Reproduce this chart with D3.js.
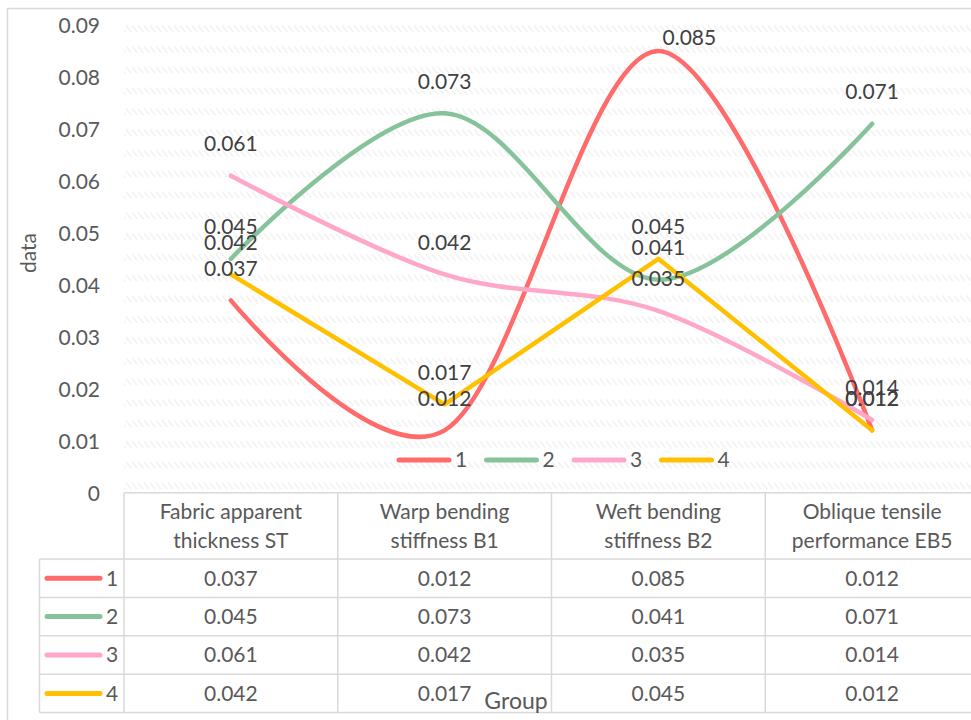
<!DOCTYPE html>
<html>
<head>
<meta charset="utf-8">
<script src="https://cdn.jsdelivr.net/npm/d3@7/dist/d3.min.js"></script>
<style>
  html, body { margin: 0; padding: 0; background: #ffffff; }
  svg { display: block; font-family: Lato, "Open Sans", sans-serif; }
</style>
</head>
<body>
<svg id="chart" width="971" height="720"></svg>
<script>
// ---------- data ----------
const categories = [
  "Fabric apparent thickness ST",
  "Warp bending stiffness B1",
  "Weft bending stiffness B2",
  "Oblique tensile performance EB5"
];
const seriesNames = ["1", "2", "3", "4"];
const series1 = [0.037, 0.012, 0.085, 0.012];
const series2 = [0.045, 0.073, 0.041, 0.071];
const series3 = [0.061, 0.042, 0.035, 0.014];
const series4 = [0.042, 0.017, 0.045, 0.012];
const yTicks = [0, 0.01, 0.02, 0.03, 0.04, 0.05, 0.06, 0.07, 0.08, 0.09];
const yTickLabels = ["0", "0.01", "0.02", "0.03", "0.04", "0.05", "0.06", "0.07", "0.08", "0.09"];
const valueLabels = [
  ["0.037", "0.012", "0.085", "0.012"],
  ["0.045", "0.073", "0.041", "0.071"],
  ["0.061", "0.042", "0.035", "0.014"],
  ["0.042", "0.017", "0.045", "0.012"]
];
const yTitle = "data";
const xTitle = "Group";

// ---------- styles ----------
const colors = ["#FF6B6B", "#86C39A", "#FFA7C8", "#FFC000"];
const smooth = [true, true, true, false];
const allSeries = [series1, series2, series3, series4];

const svg = d3.select("#chart");
const W = 971, H = 720;

const plotLeft = 124, plotRight = 979, plotTop = 25, plotBottom = 492.7;

const x = d3.scaleBand().domain(categories).range([plotLeft, plotRight]).padding(0);
const y = d3.scaleLinear().domain([0, 0.09]).range([plotBottom, plotTop]);
const cx = c => x(c) + x.bandwidth() / 2;

// outer chart border
svg.append("path")
  .attr("d", `M7.5,${H + 5} L7.5,8.5 L${W + 5},8.5`)
  .attr("fill", "none").attr("stroke", "#d9d9d9").attr("stroke-width", 1.5);

// hatched gridline pattern
const defs = svg.append("defs");
const pat = defs.append("pattern")
  .attr("id", "hatch")
  .attr("patternUnits", "userSpaceOnUse")
  .attr("width", 6).attr("height", (plotBottom - plotTop) / 22.5)
  .attr("x", 0).attr("y", plotTop);
pat.append("path").attr("d", "M0,0.5 L5,6.5")
  .attr("stroke", "#f1f1f1").attr("stroke-width", 1.5).attr("stroke-linecap", "round");

svg.append("rect")
  .attr("x", plotLeft).attr("y", plotTop)
  .attr("width", W - plotLeft).attr("height", plotBottom - plotTop - 1)
  .attr("fill", "url(#hatch)");

// y tick labels
const yAxis = d3.axisLeft(y).tickValues(yTicks)
  .tickFormat((d, i) => yTickLabels[i]).tickSize(0).tickPadding(0);
const gy = svg.append("g").attr("transform", "translate(100,0)").call(yAxis);
gy.select(".domain").remove();
gy.selectAll("text")
  .attr("font-size", 21).attr("fill", "#595959")
  .attr("font-family", "Lato, 'Open Sans', sans-serif")
  .attr("dy", "0.35em");

// y title
svg.append("text")
  .attr("transform", "translate(36,253) rotate(-90)")
  .attr("text-anchor", "middle")
  .attr("font-size", 21).attr("fill", "#595959")
  .text(yTitle);

// series lines
allSeries.forEach((vals, si) => {
  const line = d3.line()
    .x((d, i) => cx(categories[i]))
    .y(d => y(d))
    .curve(smooth[si] ? d3.curveCatmullRom.alpha(0) : d3.curveLinear);
  svg.append("path")
    .datum(vals)
    .attr("d", line)
    .attr("fill", "none")
    .attr("stroke", colors[si])
    .attr("stroke-width", 4.5)
    .attr("stroke-linecap", "round")
    .attr("stroke-linejoin", "round");
});

// data labels (kept inside the plot area; nudged right when clamped at the top)
const minLabelY = plotTop + 13;
allSeries.forEach((vals, si) => {
  vals.forEach((v, i) => {
    let ly = y(v) - 32;
    let lx = cx(categories[i]);
    if (ly < minLabelY) { ly = minLabelY; lx += 31; }
    svg.append("text")
      .attr("x", lx).attr("y", ly).attr("dy", "0.35em")
      .attr("text-anchor", "middle")
      .attr("font-size", 21).attr("fill", "#404040")
      .text(valueLabels[si][i]);
  });
});

// in-plot legend
const legY = 460, legX0 = 397, legStep = 87.5;
seriesNames.forEach((name, si) => {
  const lx = legX0 + si * legStep;
  svg.append("line")
    .attr("x1", lx + 2).attr("x2", lx + 52)
    .attr("y1", legY).attr("y2", legY)
    .attr("stroke", colors[si]).attr("stroke-width", 5).attr("stroke-linecap", "round");
  svg.append("text")
    .attr("x", lx + 58).attr("y", legY).attr("dy", "0.35em")
    .attr("font-size", 21).attr("fill", "#595959")
    .text(name);
});

// ---------- data table ----------
const headerTop = plotBottom, headerBottom = 559, rowH = 38.4;
const tableLeft = 39.5;
const grid = "#d9d9d9";
const tg = svg.append("g");

// horizontal lines
tg.append("line").attr("x1", plotLeft).attr("x2", W + 5)
  .attr("y1", headerTop).attr("y2", headerTop).attr("stroke", grid).attr("stroke-width", 1.5);
for (let r = 0; r <= seriesNames.length; r++) {
  const yy = headerBottom + r * rowH;
  tg.append("line").attr("x1", tableLeft).attr("x2", W + 5)
    .attr("y1", yy).attr("y2", yy).attr("stroke", grid).attr("stroke-width", 1.5);
}
// vertical lines
const tableBottom = headerBottom + seriesNames.length * rowH;
tg.append("line").attr("x1", tableLeft).attr("x2", tableLeft)
  .attr("y1", headerBottom).attr("y2", tableBottom).attr("stroke", grid).attr("stroke-width", 1.5);
categories.forEach((c, i) => {
  tg.append("line").attr("x1", x(c)).attr("x2", x(c))
    .attr("y1", headerTop).attr("y2", tableBottom).attr("stroke", grid).attr("stroke-width", 1.5);
});
tg.append("line").attr("x1", plotRight).attr("x2", plotRight)
  .attr("y1", headerTop).attr("y2", tableBottom).attr("stroke", grid).attr("stroke-width", 1.5);

// header text with wrapping
categories.forEach(c => {
  const words = c.split(" ");
  const t = tg.append("text").attr("font-size", 21).attr("fill", "#595959")
    .attr("text-anchor", "middle");
  let lines = [], cur = [];
  const probe = tg.append("text").attr("font-size", 21);
  words.forEach(w => {
    const test = cur.concat([w]).join(" ");
    probe.text(test);
    if (probe.node().getComputedTextLength() > 175 && cur.length) {
      lines.push(cur.join(" "));
      cur = [w];
    } else cur.push(w);
  });
  lines.push(cur.join(" "));
  probe.remove();
  const midY = (headerTop + headerBottom) / 2;
  const lh = 29;
  lines.forEach((ln, k) => {
    t.append("tspan").attr("x", cx(c))
      .attr("y", midY + (k - (lines.length - 1) / 2) * lh)
      .attr("dy", "0.35em").text(ln);
  });
});

// rows
seriesNames.forEach((name, si) => {
  const ry = headerBottom + si * rowH + rowH / 2;
  tg.append("line").attr("x1", 47).attr("x2", 100)
    .attr("y1", ry).attr("y2", ry)
    .attr("stroke", colors[si]).attr("stroke-width", 5).attr("stroke-linecap", "round");
  tg.append("text").attr("x", 106).attr("y", ry).attr("dy", "0.35em")
    .attr("font-size", 21).attr("fill", "#595959").text(name);
  allSeries[si].forEach((v, i) => {
    tg.append("text").attr("x", cx(categories[i])).attr("y", ry).attr("dy", "0.35em")
      .attr("text-anchor", "middle")
      .attr("font-size", 21).attr("fill", "#595959")
      .text(valueLabels[si][i]);
  });
});

// x title
svg.append("text")
  .attr("x", 516).attr("y", 701).attr("dy", "0.35em")
  .attr("text-anchor", "middle")
  .attr("font-size", 23).attr("fill", "#595959")
  .text(xTitle);
</script>
</body>
</html>
